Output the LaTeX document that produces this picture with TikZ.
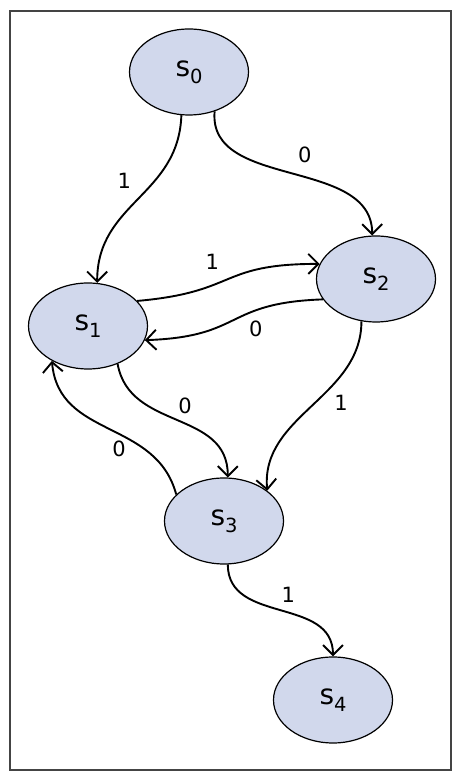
\documentclass[tikz,border=0pt]{standalone}
\usepackage{fontspec}
\setmainfont{DejaVu Sans}
\usetikzlibrary{arrows.meta,shapes.geometric}
\definecolor{nodefill}{HTML}{D1D8EC}
\definecolor{framegray}{HTML}{444444}
\newcommand{\stname}[1]{\fontsize{28}{28}\selectfont s\raisebox{-0.26em}{\fontsize{19.5}{19.5}\selectfont #1}}
\tikzset{
  state/.style={ellipse, draw=black, line width=1.2pt, fill=nodefill,
    minimum width=119pt, minimum height=86pt, inner sep=0pt},
  trans/.style={draw=black, line width=1.9pt,
    -{Straight Barb[length=10pt,width=20pt,line width=1.9pt]}},
  lbl/.style={font=\fontsize{21}{21}\selectfont, inner sep=0pt}
}
\begin{document}
\begin{tikzpicture}[x=1pt,y=1pt]
\useasboundingbox (0,0) rectangle (460,781);
\draw[framegray, line width=1.8pt] (10,11) rectangle (451,770);
\node[state] (s0) at (189,709) {\stname{0}};
\node[state] (s1) at (88,455) {\stname{1}};
\node[state] (s2) at (376,502) {\stname{2}};
\node[state] (s3) at (224,260) {\stname{3}};
\node[state] (s4) at (333,81) {\stname{4}};
% s0 -> s1
\draw[trans] (s0.-100) to[out=-92,in=90,looseness=1.1] node[lbl,pos=0.45,xshift=-20pt,yshift=12pt] (l01) {1} (s1.78);
% s0 -> s2
\draw[trans] (s0.-57) to[out=-95,in=90,looseness=1.0] node[lbl,pos=0.5,yshift=18pt,xshift=14pt] (l02) {0} (s2.95);
% s1 -> s2
\draw[trans] (s1.27) to[out=5,in=180,looseness=1.4] node[lbl,pos=0.45,yshift=20pt,xshift=-10pt] (l12) {1} (s2.165);
% s2 -> s1
\draw[trans] (s2.-159) to[out=182,in=2,looseness=1.4] node[lbl,pos=0.4,yshift=-15pt,xshift=10pt] (l21) {0} (s1.-14);
% s1 -> s3
\draw[trans] (s1.-52) to[out=-80,in=90,looseness=1.1] node[lbl,pos=0.5,yshift=14pt,xshift=8pt] (l13) {0} (s3.85);
% s2 -> s3
\draw[trans] (s2.-109) to[out=-90,in=95,looseness=1.0] node[lbl,pos=0.45,xshift=22pt,yshift=-4pt] (l23) {1} (s3.35);
% s3 -> s1
\draw[trans] (s3.151) to[out=105,in=-85,looseness=1.1] node[lbl,pos=0.5,xshift=10pt,yshift=-20pt] (l31) {0} (s1.-136);
% s3 -> s4
\draw[trans] (s3.-85) to[out=-90,in=90,looseness=1.1] node[lbl,pos=0.5,yshift=16pt,xshift=8pt] (l34) {1} (s4.90);
\end{tikzpicture}
\end{document}
